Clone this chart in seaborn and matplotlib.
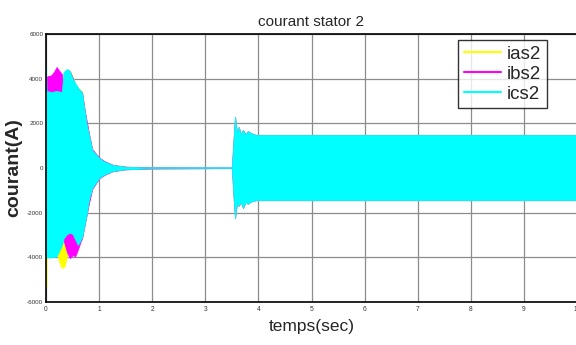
import numpy as np
import pandas as pd
import matplotlib
matplotlib.use("Agg")
import matplotlib.pyplot as plt
import seaborn as sns
from matplotlib.lines import Line2D

sns.set_theme(style="white")
plt.rcParams['font.family'] = ['Liberation Sans', 'DejaVu Sans']

# ---- data (envelopes) ----
# start-up transient (0 .. 2 s)
t_ias = [0, 0.008, 0.012, 0.1, 0.2, 0.25, 0.3, 0.35, 0.4, 0.42, 0.45, 0.5, 0.55, 0.6, 0.68, 0.73, 0.81, 0.87, 1.0, 1.1, 1.26, 1.5, 2.0]
up_ias = [1000, 1000, 3400, 3350, 3400, 3400, 3350, 4200, 4380, 4400, 4350, 4100, 3750, 3600, 3420, 2550, 1520, 820, 460, 300, 140, 60, 20]
lo_ias = [-5300, -5300, -4000, -3950, -3700, -4200, -4480, -4400, -3900, -3300, -3000, -2950, -3000, -3400, -3150, -2500, -1550, -920, -460, -300, -140, -60, -20]

t_ibs = [0, 0.02, 0.1, 0.15, 0.2, 0.25, 0.3, 0.32, 0.35, 0.4, 0.45, 0.5, 0.55, 0.6, 0.65, 0.68, 0.73, 0.81, 0.87, 1.0, 1.1, 1.26, 1.5, 2.0]
up_ibs = [4000, 4100, 4150, 4300, 4520, 4350, 4200, 3700, 4200, 4400, 4330, 4050, 3700, 3580, 3450, 3380, 2560, 1530, 840, 470, 310, 140, 60, 20]
lo_ibs = [-3950, -3950, -3900, -3800, -3600, -3500, -3400, -3100, -3400, -3800, -4030, -3900, -3950, -3650, -3300, -3150, -2520, -1560, -940, -470, -310, -140, -60, -20]

t_ics = [0, 0.01, 0.1, 0.2, 0.3, 0.33, 0.4, 0.45, 0.5, 0.6, 0.68, 0.73, 0.77, 0.81, 0.87, 1.0, 1.1, 1.26, 1.5, 2.0]
up_ics = [4600, 3450, 3400, 3450, 3400, 4300, 4430, 4330, 4000, 3600, 3360, 2500, 1900, 1480, 800, 450, 290, 130, 55, 15]
lo_ics = [-4000, -4000, -4000, -3950, -3450, -3150, -2950, -2900, -2950, -3450, -3100, -2500, -2010, -1400, -900, -450, -290, -130, -55, -15]

# re-energisation at 3.5 s and steady state (common to the three phases)
t_steady = [2.0, 3.49, 3.5, 3.53, 3.56, 3.6, 3.63, 3.67, 3.71, 3.76, 3.8, 3.86, 3.95, 10.0]
up_steady = [15, 0, 0, 1200, 2290, 1500, 1840, 1500, 1700, 1500, 1650, 1560, 1480, 1480]
lo_steady = [-15, 0, 0, -1200, -2240, -1500, -1700, -1500, -1790, -1500, -1600, -1500, -1440, -1440]

labels = ["ias2", "ibs2", "ics2"]
colors = ["#ffff00", "#ff00ff", "#00ffff"]
x_ticks = [0, 1, 2, 3, 4, 5, 6, 7, 8, 9, 10]
y_ticks = [-6000, -4000, -2000, 0, 2000, 4000, 6000]

# ---- figure ----
fig = plt.figure(figsize=(5.76, 3.45), dpi=100)
ax = fig.add_axes([46/576, 43/345, 531/576, 268/345])

series = [(t_ias, up_ias, lo_ias), (t_ibs, up_ibs, lo_ibs), (t_ics, up_ics, lo_ics)]
for (t, up, lo), c in zip(series, colors):
    tt = list(t) + list(t_steady[1:])
    uu = list(up) + list(up_steady[1:])
    ll = list(lo) + list(lo_steady[1:])
    ax.fill_between(tt, ll, uu, color=c, linewidth=0.6, edgecolor=c, zorder=2)

# zero line where the machine is de-energised
df0 = pd.DataFrame({"t": [1.8, 3.5], "i": [0, 0]})
sns.lineplot(data=df0, x="t", y="i", color="#33ccff", linewidth=1.2, ax=ax, zorder=3)

ax.set_xlim(0, 10)
ax.set_ylim(-6000, 6000)
ax.set_xticks(x_ticks)
ax.set_yticks(y_ticks)
ax.set_xticklabels([str(v) for v in x_ticks], fontsize=4.8)
ax.set_yticklabels([str(v) for v in y_ticks], fontsize=4.5)
ax.tick_params(direction="in", length=3, width=0.8, pad=2, colors="#333333")
ax.tick_params(axis="x", pad=3)
ax.grid(True, color="#8c8c8c", linewidth=0.9)
ax.set_axisbelow(True)
for s in ax.spines.values():
    s.set_color("black")
    s.set_linewidth(1.2)

ax.set_title("courant stator 2", fontsize=11, pad=6)
ax.set_xlabel("temps(sec)", fontsize=12.5, labelpad=4)
ax.set_ylabel("courant(A)", fontsize=14, fontweight="bold")
ax.yaxis.set_label_coords(-0.045, 0.5)

handles = [Line2D([0], [0], color=c, linewidth=1.5) for c in colors]
leg = ax.legend(handles, labels, loc="upper right",
                bbox_to_anchor=(547/576, 1 - 40/345), bbox_transform=fig.transFigure,
                borderaxespad=0, fontsize=13.5, frameon=True, fancybox=False,
                handlelength=2.0, handletextpad=0.3, labelspacing=0.15,
                borderpad=0.3)
leg.get_frame().set_edgecolor("black")
leg.get_frame().set_linewidth(1.0)

fig.savefig("out.png", dpi=100)
